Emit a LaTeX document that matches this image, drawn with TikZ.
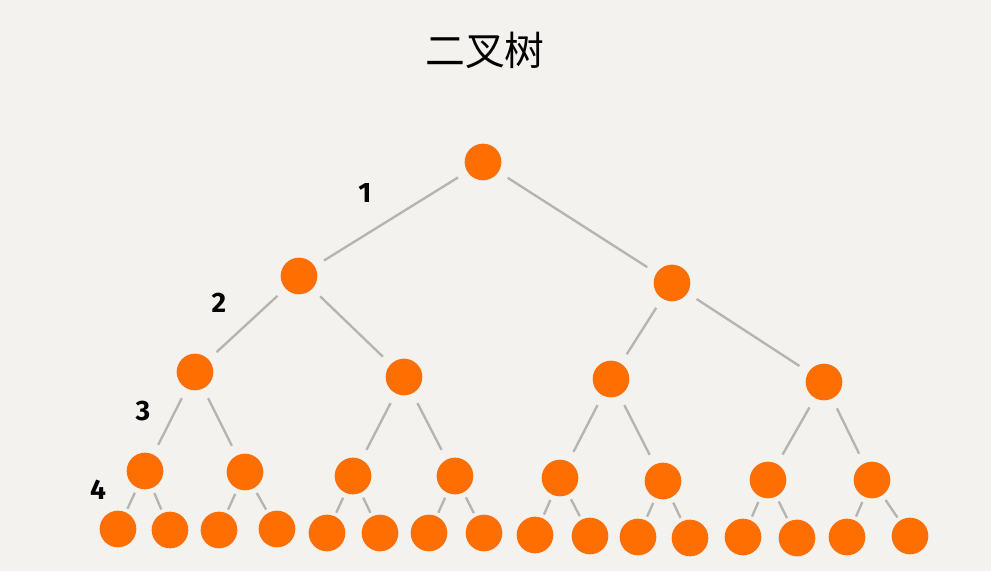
\documentclass[tikz,border=0pt]{standalone}
\usepackage{fontspec}
\setsansfont{Fira Sans}
\newfontfamily\cjk{Noto Sans CJK SC}
\usetikzlibrary{positioning}
\definecolor{bgpaper}{HTML}{F4F2EE}
\definecolor{btorange}{HTML}{FF6E00}
\definecolor{btgrey}{HTML}{B4B4B2}

\begin{document}
\begin{tikzpicture}[
  x=0.03cm, y=-0.03cm,
  vert/.style={circle, fill=btorange, inner sep=0pt, outer sep=0pt, minimum size=1.1cm},
  edge/.style={btgrey, line width=2pt, shorten <=0.33cm, shorten >=0.33cm},
  twig/.style={btgrey, line width=2pt, shorten <=0.17cm, shorten >=0.12cm},
  depth/.style={font=\sffamily\bfseries\fontsize{24}{24}\selectfont, text=black},
]

  %% Fondo y marco
  \fill[bgpaper] (0,0) rectangle (991,571);
  \useasboundingbox (0,0) rectangle (991,571);

  %% Titulo
  \node[font=\cjk\fontsize{34}{34}\selectfont] (title) at (485,50) {二叉树};

  %% Nivel 0 y 1
  \node[vert] (n1) at (483,162) {};
  \node[vert] (n2) at (299,276) {};
  \node[vert] (n3) at (672,283) {};

  %% Nivel 2
  \node[vert] (n4) at (195,372) {};
  \node[vert] (n5) at (404,377) {};
  \node[vert] (n6) at (611,379) {};
  \node[vert] (n7) at (824,382) {};

  %% Nivel 3
  \node[vert] (n8)  at (145,471) {};
  \node[vert] (n9)  at (245,472) {};
  \node[vert] (n10) at (353,476) {};
  \node[vert] (n11) at (455,476) {};
  \node[vert] (n12) at (560,478) {};
  \node[vert] (n13) at (663,481) {};
  \node[vert] (n14) at (768,480) {};
  \node[vert] (n15) at (872,480) {};

  %% Hojas
  \node[vert] (n16) at (118,529) {};
  \node[vert] (n17) at (170,530) {};
  \node[vert] (n18) at (219,530) {};
  \node[vert] (n19) at (277,529) {};
  \node[vert] (n20) at (327,533) {};
  \node[vert] (n21) at (380,533) {};
  \node[vert] (n22) at (429,533) {};
  \node[vert] (n23) at (484,533) {};
  \node[vert] (n24) at (535,535) {};
  \node[vert] (n25) at (590,536) {};
  \node[vert] (n26) at (638,537) {};
  \node[vert] (n27) at (690,538) {};
  \node[vert] (n28) at (743,537) {};
  \node[vert] (n29) at (797,538) {};
  \node[vert] (n30) at (847,537) {};
  \node[vert] (n31) at (910,536) {};

  %% Aristas superiores
  \draw[edge] (n1) -- (n2);
  \draw[edge] (n1) -- (n3);
  \draw[edge] (n2) -- (n4);
  \draw[edge] (n2) -- (n5);
  \draw[edge] (n3) -- (n6);
  \draw[edge] (n3) -- (n7);
  \draw[edge] (n4) -- (n8);
  \draw[edge] (n4) -- (n9);
  \draw[edge] (n5) -- (n10);
  \draw[edge] (n5) -- (n11);
  \draw[edge] (n6) -- (n12);
  \draw[edge] (n6) -- (n13);
  \draw[edge] (n7) -- (n14);
  \draw[edge] (n7) -- (n15);

  %% Aristas hacia las hojas
  \draw[twig] (n8)  -- (n16);
  \draw[twig] (n8)  -- (n17);
  \draw[twig] (n9)  -- (n18);
  \draw[twig] (n9)  -- (n19);
  \draw[twig] (n10) -- (n20);
  \draw[twig] (n10) -- (n21);
  \draw[twig] (n11) -- (n22);
  \draw[twig] (n11) -- (n23);
  \draw[twig] (n12) -- (n24);
  \draw[twig] (n12) -- (n25);
  \draw[twig] (n13) -- (n26);
  \draw[twig] (n13) -- (n27);
  \draw[twig] (n14) -- (n28);
  \draw[twig] (n14) -- (n29);
  \draw[twig] (n15) -- (n30);
  \draw[twig] (n15) -- (n31);

  %% Numeros de nivel
  \node[depth] (d1) at (365,193) {1};
  \node[depth] (d2) at (219,303) {2};
  \node[depth] (d3) at (143,411) {3};
  \node[depth] (d4) at (98,490) {4};

\end{tikzpicture}
\end{document}
